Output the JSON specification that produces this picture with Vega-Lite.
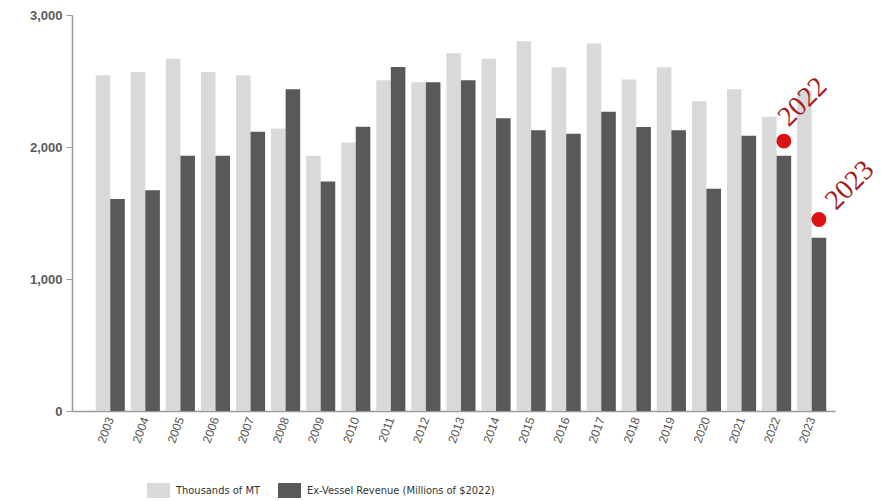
{
  "$schema": "https://vega.github.io/schema/vega-lite/v6.json",
  "autosize": "none",
  "width": 763,
  "height": 396,
  "padding": {"left": 72, "top": 15, "right": 52, "bottom": 90},
  "background": "white",
  "config": {"view": {"stroke": null}, "font": "Liberation Sans"},
  "datasets": {
    "bars": [
      {"year": "2003", "series": "Thousands of MT", "value": 2543},
      {"year": "2004", "series": "Thousands of MT", "value": 2568},
      {"year": "2005", "series": "Thousands of MT", "value": 2669},
      {"year": "2006", "series": "Thousands of MT", "value": 2568},
      {"year": "2007", "series": "Thousands of MT", "value": 2543},
      {"year": "2008", "series": "Thousands of MT", "value": 2141},
      {"year": "2009", "series": "Thousands of MT", "value": 1933},
      {"year": "2010", "series": "Thousands of MT", "value": 2035},
      {"year": "2011", "series": "Thousands of MT", "value": 2505},
      {"year": "2012", "series": "Thousands of MT", "value": 2490},
      {"year": "2013", "series": "Thousands of MT", "value": 2710},
      {"year": "2014", "series": "Thousands of MT", "value": 2669},
      {"year": "2015", "series": "Thousands of MT", "value": 2801},
      {"year": "2016", "series": "Thousands of MT", "value": 2604},
      {"year": "2017", "series": "Thousands of MT", "value": 2785},
      {"year": "2018", "series": "Thousands of MT", "value": 2512},
      {"year": "2019", "series": "Thousands of MT", "value": 2604},
      {"year": "2020", "series": "Thousands of MT", "value": 2346},
      {"year": "2021", "series": "Thousands of MT", "value": 2437},
      {"year": "2022", "series": "Thousands of MT", "value": 2229},
      {"year": "2023", "series": "Thousands of MT", "value": 2430},
      {"year": "2003", "series": "Ex-Vessel Revenue (Millions of $2022)", "value": 1607},
      {"year": "2004", "series": "Ex-Vessel Revenue (Millions of $2022)", "value": 1673},
      {"year": "2005", "series": "Ex-Vessel Revenue (Millions of $2022)", "value": 1933},
      {"year": "2006", "series": "Ex-Vessel Revenue (Millions of $2022)", "value": 1933},
      {"year": "2007", "series": "Ex-Vessel Revenue (Millions of $2022)", "value": 2115},
      {"year": "2008", "series": "Ex-Vessel Revenue (Millions of $2022)", "value": 2437},
      {"year": "2009", "series": "Ex-Vessel Revenue (Millions of $2022)", "value": 1739},
      {"year": "2010", "series": "Ex-Vessel Revenue (Millions of $2022)", "value": 2153},
      {"year": "2011", "series": "Ex-Vessel Revenue (Millions of $2022)", "value": 2606},
      {"year": "2012", "series": "Ex-Vessel Revenue (Millions of $2022)", "value": 2490},
      {"year": "2013", "series": "Ex-Vessel Revenue (Millions of $2022)", "value": 2505},
      {"year": "2014", "series": "Ex-Vessel Revenue (Millions of $2022)", "value": 2217},
      {"year": "2015", "series": "Ex-Vessel Revenue (Millions of $2022)", "value": 2126},
      {"year": "2016", "series": "Ex-Vessel Revenue (Millions of $2022)", "value": 2100},
      {"year": "2017", "series": "Ex-Vessel Revenue (Millions of $2022)", "value": 2267},
      {"year": "2018", "series": "Ex-Vessel Revenue (Millions of $2022)", "value": 2151},
      {"year": "2019", "series": "Ex-Vessel Revenue (Millions of $2022)", "value": 2126},
      {"year": "2020", "series": "Ex-Vessel Revenue (Millions of $2022)", "value": 1683},
      {"year": "2021", "series": "Ex-Vessel Revenue (Millions of $2022)", "value": 2085},
      {"year": "2022", "series": "Ex-Vessel Revenue (Millions of $2022)", "value": 1933},
      {"year": "2023", "series": "Ex-Vessel Revenue (Millions of $2022)", "value": 1312}
    ],
    "marks": [
      {"year": "2022", "series": "Ex-Vessel Revenue (Millions of $2022)", "value": 2045, "label": "2022"},
      {"year": "2023", "series": "Ex-Vessel Revenue (Millions of $2022)", "value": 1451, "label": "2023"}
    ]
  },
  "encoding": {
    "x": {
      "field": "year", "type": "nominal", "sort": null,
      "scale": {"paddingInner": 0.17, "paddingOuter": 0.463, "align": 0.73},
      "axis": {
        "title": null, "labelAngle": -70, "labelFontSize": 12, "labelColor": "#555555",
        "ticks": false, "labelPadding": 6, "domainColor": "#9a9a9a", "domainWidth": 1.5
      }
    },
    "xOffset": {
      "field": "series", "type": "nominal",
      "sort": ["Thousands of MT", "Ex-Vessel Revenue (Millions of $2022)"],
      "scale": {"paddingInner": 0, "paddingOuter": 0}
    },
    "y": {
      "field": "value", "type": "quantitative",
      "scale": {"domain": [0, 3000], "nice": false},
      "axis": {
        "title": null, "values": [0, 1000, 2000, 3000], "format": ",.0f", "grid": false,
        "labelFontSize": 13, "labelFontWeight": "bold", "labelColor": "#5a5a5a",
        "tickSize": 6, "tickColor": "#9a9a9a", "labelPadding": 4,
        "domainColor": "#9a9a9a", "domainWidth": 1.5
      }
    }
  },
  "layer": [
    {
      "data": {"name": "bars"},
      "mark": {"type": "bar"},
      "encoding": {
        "color": {
          "field": "series", "type": "nominal",
          "scale": {
            "domain": ["Thousands of MT", "Ex-Vessel Revenue (Millions of $2022)"],
            "range": ["#d9d9d9", "#595959"]
          },
          "legend": {
            "title": null, "orient": "none", "direction": "horizontal",
            "legendX": 75, "legendY": 464, "padding": 0,
            "symbolType": "M-1,-0.65H1V0.65H-1Z", "symbolSize": 529, "symbolStrokeWidth": 0,
            "labelFont": "DejaVu Sans Condensed", "labelFontSize": 11, "labelColor": "#333333",
            "labelOffset": 6, "columnPadding": 18, "labelLimit": 0
          }
        }
      }
    },
    {
      "data": {"name": "marks"},
      "mark": {"type": "point", "filled": true, "color": "#dd1111", "size": 220, "opacity": 1},
      "encoding": {}
    },
    {
      "data": {"name": "marks"},
      "transform": [{"filter": "datum.label == '2022'"}],
      "mark": {"type": "text", "angle": -45, "align": "left", "baseline": "middle", "font": "Liberation Serif", "fontSize": 28, "color": "#a51c1c", "dx": 13, "dy": -14},
      "encoding": {"text": {"field": "label"}}
    },
    {
      "data": {"name": "marks"},
      "transform": [{"filter": "datum.label == '2023'"}],
      "mark": {"type": "text", "angle": -45, "align": "left", "baseline": "middle", "font": "Liberation Serif", "fontSize": 28, "color": "#a51c1c", "dx": 18, "dy": -2},
      "encoding": {"text": {"field": "label"}}
    }
  ]
}
